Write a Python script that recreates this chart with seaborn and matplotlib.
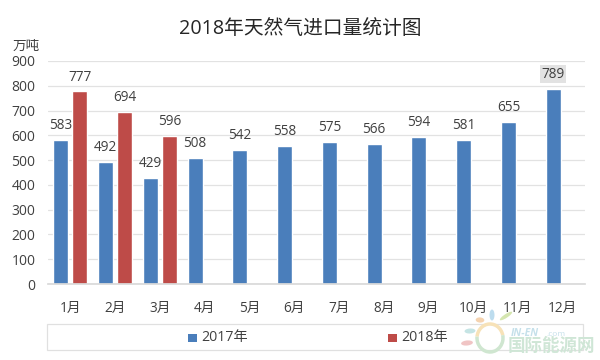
import numpy as np
import pandas as pd
import seaborn as sns
import matplotlib.pyplot as plt
from matplotlib.patches import Rectangle, Ellipse, Arc

months = ['1月', '2月', '3月', '4月', '5月', '6月', '7月', '8月', '9月', '10月', '11月', '12月']
values_2017 = [583, 492, 429, 508, 542, 558, 575, 566, 594, 581, 655, 789]
values_2018 = [777, 694, 596, np.nan, np.nan, np.nan, np.nan, np.nan, np.nan, np.nan, np.nan, np.nan]
y_ticks = [0, 100, 200, 300, 400, 500, 600, 700, 800, 900]

sns.set_theme(style='white')
plt.rcParams['font.family'] = ['Open Sans', 'Noto Sans CJK SC', 'DejaVu Sans']

df = pd.DataFrame({
    'month': months * 2,
    'value': values_2017 + values_2018,
    'year': ['2017年'] * 12 + ['2018年'] * 12,
})

text_color = '#404040'
W, H = 600, 360
fig = plt.figure(figsize=(6, 3.6), dpi=100, facecolor='white')
ax = fig.add_axes([48 / W, 1 - 284 / H, 537 / W, 223 / H])

sns.barplot(data=df, x='month', y='value', hue='year',
            palette=['#4a7ebb', '#be4b48'], width=0.84, gap=0.2,
            saturation=1, legend=False, ax=ax)

ax.set_xlim(-0.5, 11.5)
ax.set_ylim(0, 900)
ax.set_yticks(y_ticks)
ax.set_xlabel('')
ax.set_ylabel('')
ax.grid(axis='y', color='#e2e2e2', linewidth=0.9)
ax.set_axisbelow(True)
sns.despine(ax=ax, left=True, top=True, right=True)
ax.spines['bottom'].set_color('#d9d9d9')
ax.tick_params(axis='x', length=0, pad=12, labelsize=9.8, labelcolor=text_color)
ax.tick_params(axis='y', length=0, pad=9, labelsize=10, labelcolor=text_color)

# data labels
for c in ax.containers:
    labels = ax.bar_label(c, fmt='%d', padding=5, fontsize=9.8, color=text_color)
    # grey smudge behind the last label in the source image
    if c is ax.containers[0]:
        labels[-1].set_bbox(dict(facecolor='#e2e2e2', edgecolor='none', pad=1))

fig.text(300 / W, 1 - 29 / H, '2018年天然气进口量统计图', fontsize=14.2,
         color='#262626', ha='center', va='center')
fig.text(26 / W, 1 - 46 / H, '万吨', fontsize=9.8, color=text_color, ha='center', va='center')

# legend box
fig.add_artist(Rectangle((47 / W, 1 - 350 / H), 536 / W, 26 / H, transform=fig.transFigure,
                         facecolor='white', edgecolor='#e0e0e0', linewidth=0.9))
for x, col, lab in [(188, '#4a7ebb', '2017年'), (388, '#be4b48', '2018年')]:
    fig.add_artist(Rectangle((x / W, 1 - 342 / H), 9 / W, 8 / H, transform=fig.transFigure,
                             facecolor=col, edgecolor='none'))
    fig.text((x + 13) / W, 1 - 337.5 / H, lab, fontsize=10.2, color=text_color, ha='left', va='center')

# watermark
for cx, cy, w, h, ang, col in [(480, 320, 9, 5, -50, '#f5d3b0'), (492, 315, 5, 11, 0, '#bcdcee'),
                               (506, 316, 5, 11, -40, '#d5e6b0'), (470, 331, 11, 5, 10, '#c5e4e4'),
                               (467, 343, 12, 5, 15, '#f0c4c4')]:
    fig.add_artist(Ellipse((cx / W, 1 - cy / H), w / W, h / H, angle=ang, transform=fig.transFigure,
                           facecolor=col, edgecolor='none'))
fig.add_artist(Arc((490 / W, 1 - 338 / H), 26 / W, 28 / H, theta1=20, theta2=170,
                   transform=fig.transFigure, edgecolor='#f7e2b8', linewidth=2.5))
fig.add_artist(Arc((490 / W, 1 - 338 / H), 26 / W, 28 / H, theta1=170, theta2=380,
                   transform=fig.transFigure, edgecolor='#cfe6d0', linewidth=2.5))
fig.text(511 / W, 1 - 333 / H, 'IN-EN', fontsize=7.5, color='#c5e0ea', style='italic',
         fontweight='bold', ha='left', va='center')
fig.text(546 / W, 1 - 334 / H, '.com', fontsize=6, color='#c5e0ea', ha='left', va='center')
fig.text(508 / W, 1 - 346 / H, '国际能源网', fontsize=12.6, color='#cfe6d6',
         fontweight='bold', ha='left', va='center')

fig.savefig('out.png', dpi=100, facecolor='white')
